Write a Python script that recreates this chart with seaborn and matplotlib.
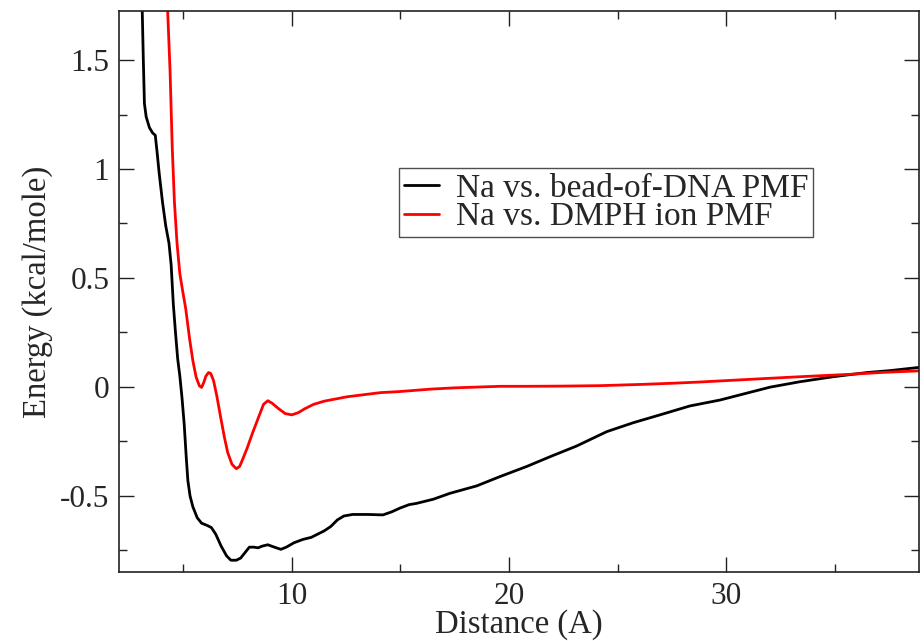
import numpy as np
import pandas as pd
import seaborn as sns
import matplotlib
matplotlib.use("Agg")
import matplotlib.pyplot as plt
from matplotlib.ticker import MultipleLocator
from matplotlib.lines import Line2D

# Data
dna_x = [3.0, 3.12, 3.17, 3.22, 3.3, 3.45, 3.6, 3.72, 3.8, 3.9, 4.05, 4.2, 4.35, 4.45,
         4.55, 4.65, 4.75, 4.85, 4.95, 5.05, 5.15, 5.22, 5.32, 5.45, 5.65, 5.85, 6.1,
         6.3, 6.5, 6.75, 7.0, 7.2, 7.45, 7.65, 7.85, 8.05, 8.25, 8.45, 8.65, 8.9, 9.2,
         9.5, 9.75, 10.1, 10.5, 10.9, 11.2, 11.5, 11.8, 12.1, 12.4, 12.8, 13.5, 14.2,
         14.6, 15.0, 15.4, 15.75, 16.52, 17.28, 18.51, 19.59, 20.81, 21.89, 23.11,
         24.5, 25.72, 26.95, 28.33, 29.71, 32.01, 33.39, 34.92, 36.46, 37.53, 38.9]
dna_y = [2.2, 1.725, 1.5, 1.3, 1.24, 1.19, 1.165, 1.155, 1.08, 0.98, 0.85, 0.74, 0.66, 0.56,
         0.38, 0.25, 0.13, 0.05, -0.05, -0.17, -0.33, -0.43, -0.5, -0.55, -0.6, -0.625, -0.635,
         -0.645, -0.675, -0.73, -0.775, -0.795, -0.795, -0.785, -0.76, -0.735, -0.735, -0.738,
         -0.73, -0.724, -0.735, -0.745, -0.735, -0.715, -0.7, -0.69, -0.675, -0.66, -0.64,
         -0.61, -0.592, -0.585, -0.585, -0.587, -0.573, -0.555, -0.54, -0.534, -0.515,
         -0.488, -0.454, -0.411, -0.365, -0.32, -0.271, -0.205, -0.164, -0.128, -0.087,
         -0.06, -0.001, 0.024, 0.047, 0.066, 0.075, 0.09]

dmph_x = [4.2, 4.29, 4.4, 4.5, 4.6, 4.72, 4.85, 4.98, 5.12, 5.3, 5.45, 5.6, 5.75, 5.85,
          5.95, 6.05, 6.17, 6.27, 6.4, 6.55, 6.73, 6.9, 7.05, 7.25, 7.45, 7.6, 7.75, 7.95,
          8.2, 8.45, 8.7, 8.9, 9.1, 9.4, 9.7, 10.0, 10.3, 10.6, 11.0, 11.5, 12.55, 14.08,
          14.98, 16.38, 17.5, 19.59, 20.81, 22.5, 24.19, 26.18, 27.5, 28.64, 31.1, 33.39,
          35.69, 37.22, 38.9]
dmph_y = [2.2, 1.725, 1.45, 1.1, 0.85, 0.66, 0.52, 0.44, 0.36, 0.22, 0.12, 0.045, 0.005,
          -0.002, 0.02, 0.05, 0.066, 0.062, 0.03, -0.04, -0.14, -0.23, -0.3, -0.355, -0.375,
          -0.365, -0.33, -0.28, -0.21, -0.145, -0.08, -0.063, -0.075, -0.1, -0.122, -0.128,
          -0.118, -0.1, -0.08, -0.065, -0.045, -0.026, -0.021, -0.01, -0.004, 0.003, 0.003,
          0.004, 0.006, 0.012, 0.017, 0.022, 0.035, 0.047, 0.058, 0.067, 0.074]

labels = ["Na vs. bead-of-DNA PMF", "Na vs. DMPH ion PMF"]
colors = ["black", "red"]

df = pd.concat([
    pd.DataFrame({"Distance": dna_x, "Energy": dna_y, "Series": labels[0]}),
    pd.DataFrame({"Distance": dmph_x, "Energy": dmph_y, "Series": labels[1]}),
])

sns.set_theme(style="ticks")
serif = ["Liberation Serif", "DejaVu Serif"]
plt.rcParams["font.family"] = serif

fig = plt.figure(figsize=(9.24, 6.41), dpi=100)
ax = fig.add_axes([119 / 924, 1 - 572 / 641, 800 / 924, 561 / 641])

sns.lineplot(data=df, x="Distance", y="Energy", hue="Series", palette=colors,
             estimator=None, sort=False, linewidth=2.0, ax=ax, legend=False)

ax.set_xlim(2.05, 38.87)
ax.set_ylim(-0.849, 1.725)
ax.xaxis.set_major_locator(MultipleLocator(10))
ax.xaxis.set_minor_locator(MultipleLocator(5))
ax.yaxis.set_minor_locator(MultipleLocator(0.25))
ax.set_yticks([-0.5, 0, 0.5, 1, 1.5])
ax.set_yticklabels(["-0.5", "0", "0.5", "1", "1.5"])

ax.tick_params(which="both", direction="in", top=True, right=True, color="#222222",
               width=1.0, labelsize=22.5, pad=7)
ax.tick_params(which="major", length=11)
ax.tick_params(which="minor", length=6)
for lbl in ax.get_xticklabels() + ax.get_yticklabels():
    lbl.set_fontfamily(serif)
for s in ax.spines.values():
    s.set_color("#222222")
    s.set_linewidth(1.2)

ax.set_xlabel("Distance (A)", fontsize=23.5, fontfamily=serif)
ax.set_ylabel("Energy (kcal/mole)", fontsize=23.5, fontfamily=serif)
ax.xaxis.set_label_coords(0.5, -0.066)
ax.yaxis.set_label_coords(-0.083, 0.5)

handles = [Line2D([], [], color=c, linewidth=2.0) for c in colors]
leg = ax.legend(handles, labels, loc="upper left", bbox_to_anchor=(0.35, 0.72),
                borderaxespad=0, frameon=True, fancybox=False,
                prop={"family": serif, "size": 24},
                edgecolor="#222222", handlelength=1.05, handletextpad=0.5,
                labelspacing=-0.05, borderpad=0.15)
leg.get_frame().set_linewidth(1.0)

fig.savefig("out.png", dpi=100, facecolor="white")
